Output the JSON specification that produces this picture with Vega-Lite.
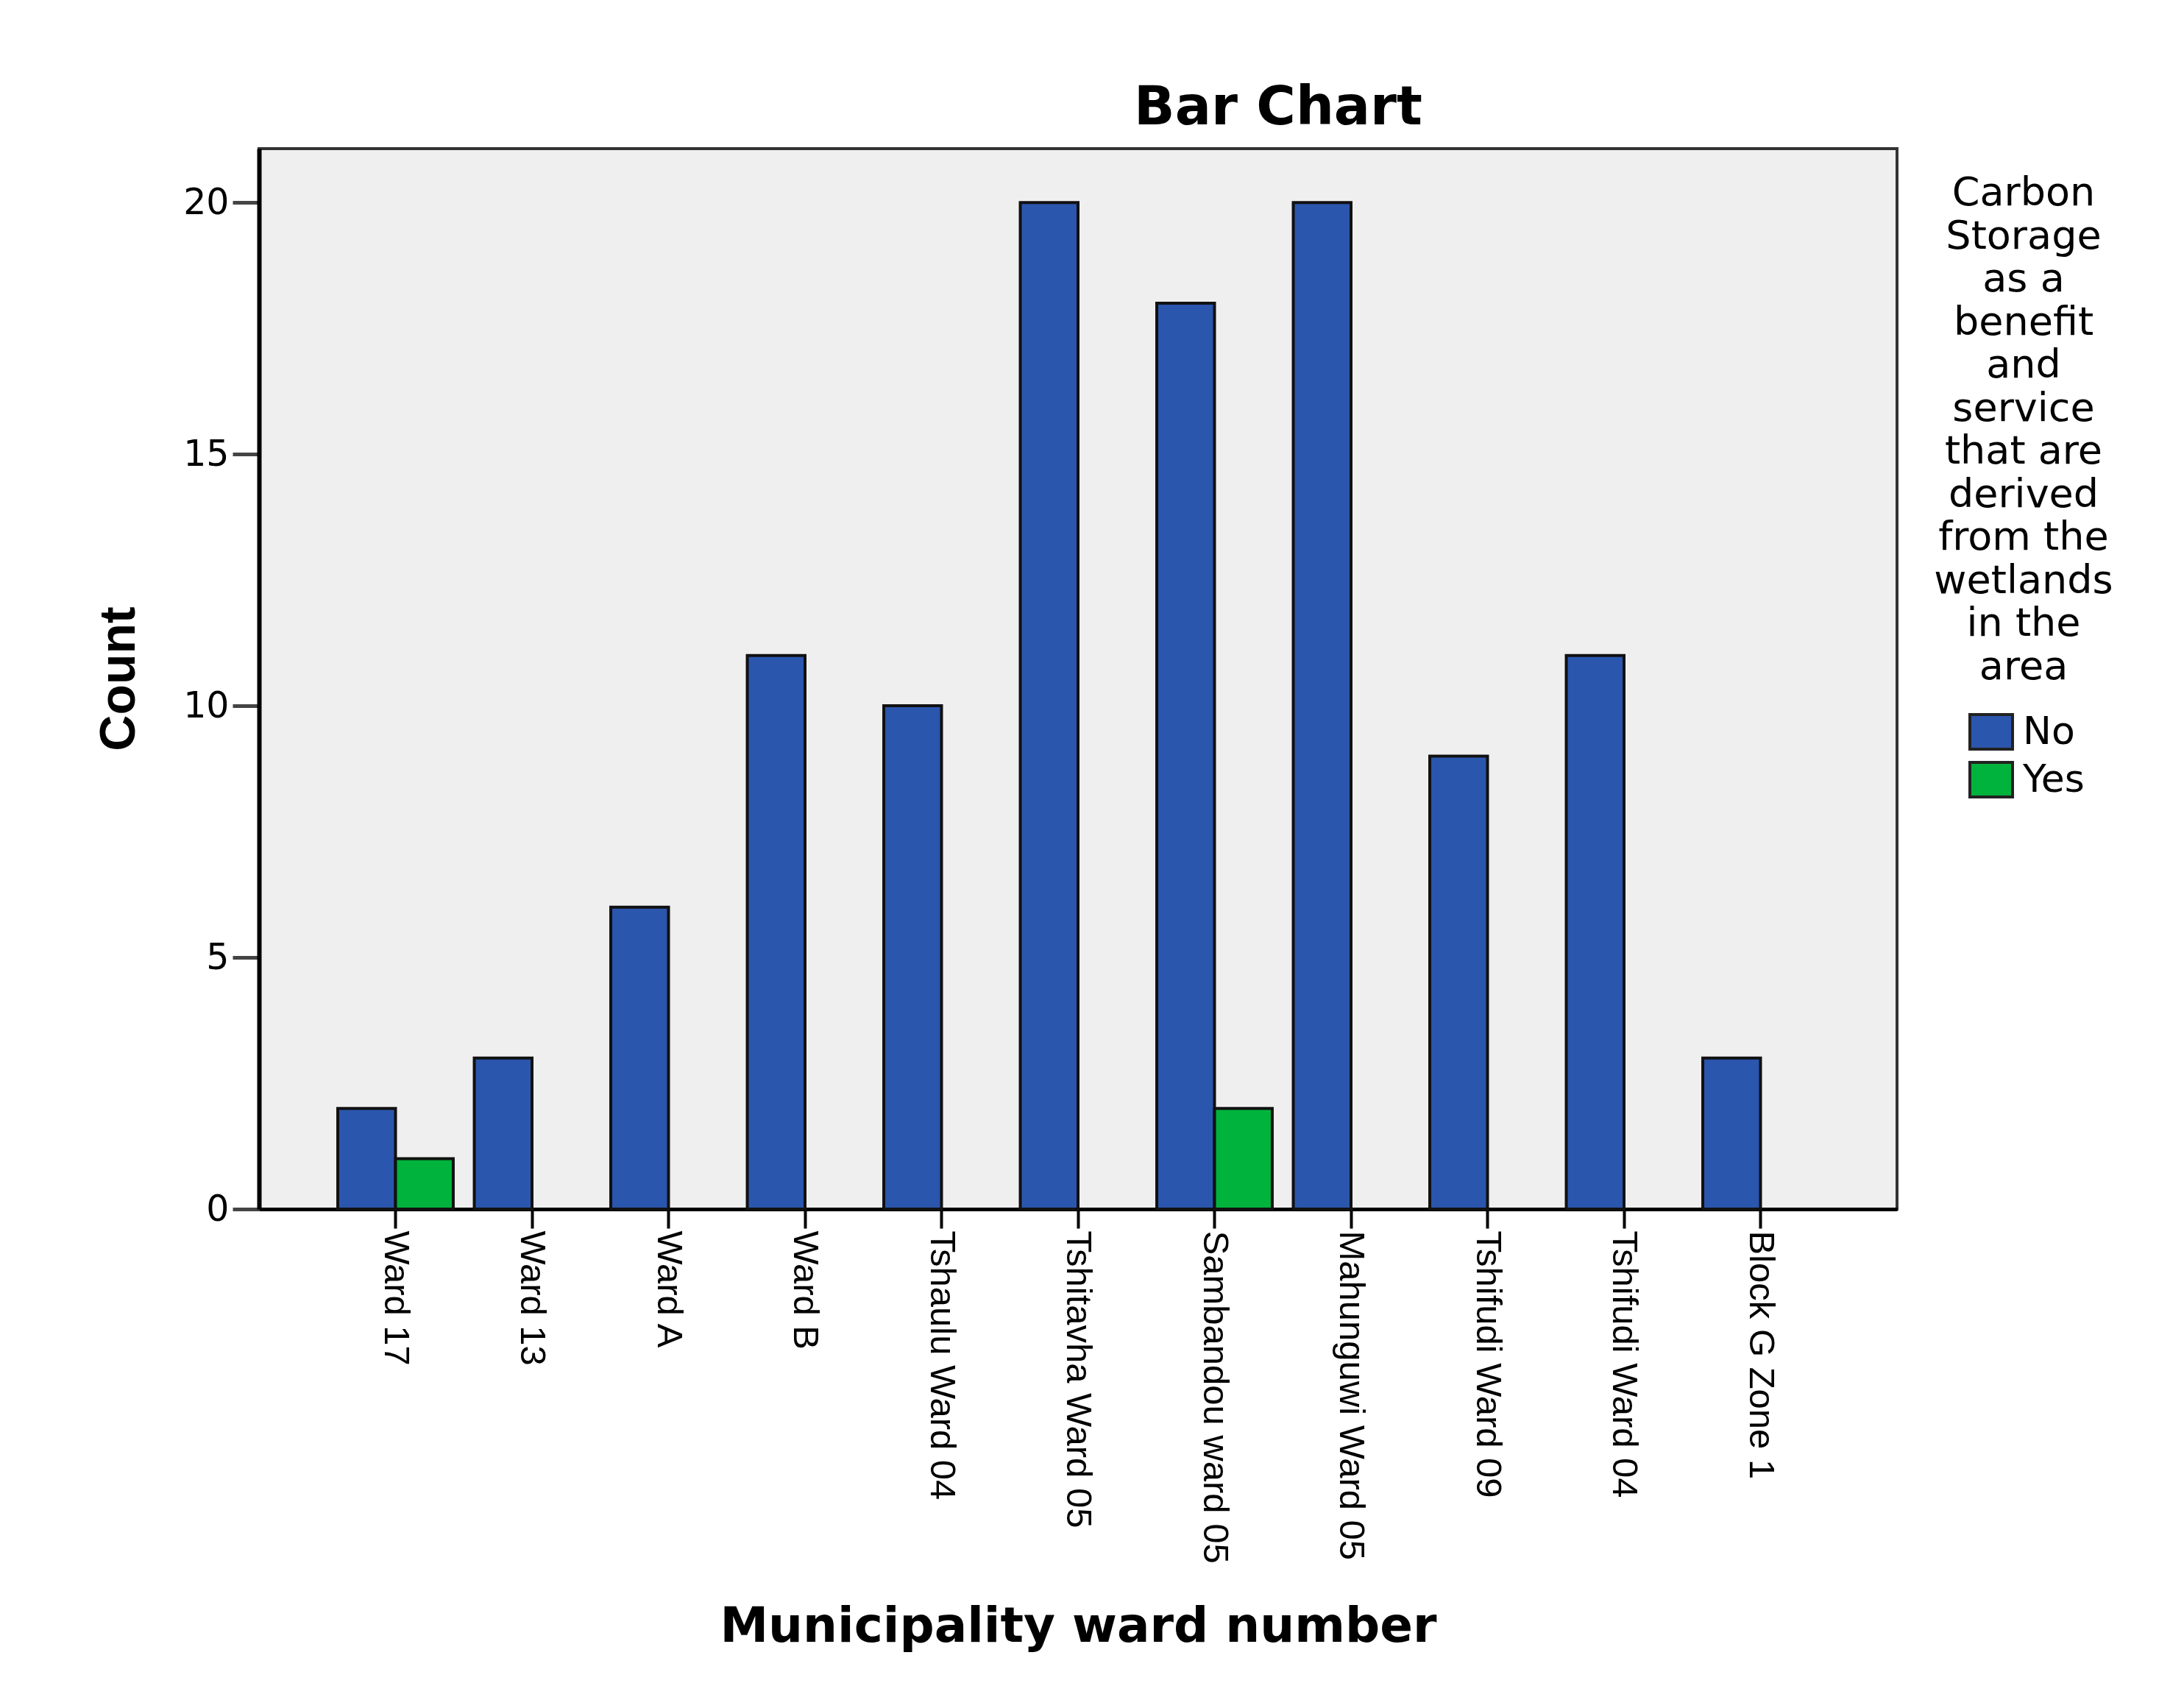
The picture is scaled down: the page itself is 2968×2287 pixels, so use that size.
{
  "$schema": "https://vega.github.io/schema/vega-lite/v6.json",
  "autosize": {"type": "none"},
  "width": 2226,
  "height": 1441,
  "padding": {"left": 352, "top": 202, "right": 390, "bottom": 644},
  "background": "white",
  "title": {"text": "Bar Chart", "font": "DejaVu Sans", "fontSize": 73, "fontWeight": "bold", "color": "black", "anchor": "middle", "dx": 272, "dy": 72, "baseline": "alphabetic", "offset": 32},
  "data": {"values": [
    {"ward": "Ward 17", "answer": "No", "count": 2},
    {"ward": "Ward 17", "answer": "Yes", "count": 1},
    {"ward": "Ward 13", "answer": "No", "count": 3},
    {"ward": "Ward A", "answer": "No", "count": 6},
    {"ward": "Ward B", "answer": "No", "count": 11},
    {"ward": "Tshaulu Ward 04", "answer": "No", "count": 10},
    {"ward": "Tshitavha Ward 05", "answer": "No", "count": 20},
    {"ward": "Sambandou ward 05", "answer": "No", "count": 18},
    {"ward": "Sambandou ward 05", "answer": "Yes", "count": 2},
    {"ward": "Mahunguwi Ward 05", "answer": "No", "count": 20},
    {"ward": "Tshifudi Ward 09", "answer": "No", "count": 9},
    {"ward": "Tshifudi Ward 04", "answer": "No", "count": 11},
    {"ward": "Block G Zone 1", "answer": "No", "count": 3}
  ]},
  "mark": {"type": "bar", "stroke": "#111111", "strokeWidth": 4},
  "encoding": {
    "x": {
      "field": "ward", "type": "nominal",
      "sort": ["Ward 17", "Ward 13", "Ward A", "Ward B", "Tshaulu Ward 04", "Tshitavha Ward 05", "Sambandou ward 05", "Mahunguwi Ward 05", "Tshifudi Ward 09", "Tshifudi Ward 04", "Block G Zone 1"],
      "scale": {"paddingInner": 0.154, "paddingOuter": 0.577},
      "axis": {
        "title": "Municipality ward number",
        "titleFont": "DejaVu Sans", "titleFontSize": 66, "titleFontWeight": "bold", "titleColor": "black",
        "titleBaseline": "alphabetic", "titleY": 587, "titleX": 1113,
        "labelAngle": 90, "labelFont": "Liberation Sans", "labelFontSize": 49, "labelColor": "black",
        "labelPadding": 3, "labelLimit": 0, "labelOverlap": false,
        "tickSize": 26, "tickWidth": 4, "tickColor": "black",
        "domainColor": "black", "domainWidth": 5, "grid": false
      }
    },
    "xOffset": {"field": "answer", "type": "nominal", "scale": {"domain": ["No", "Yes"], "paddingInner": 0, "paddingOuter": 0}},
    "y": {
      "field": "count", "type": "quantitative",
      "scale": {"domain": [0, 21.07], "nice": false},
      "axis": {
        "title": "Count",
        "titleFont": "Liberation Sans", "titleFontSize": 68, "titleFontWeight": "bold", "titleColor": "black",
        "titleBaseline": "alphabetic", "titleAngle": 270, "titleX": -170, "titleY": 720,
        "values": [0, 5, 10, 15, 20],
        "labelFont": "DejaVu Sans", "labelFontSize": 49, "labelColor": "black", "labelPadding": 5,
        "tickSize": 36, "tickWidth": 5, "tickColor": "#444444",
        "domainColor": "black", "domainWidth": 6, "grid": false
      }
    },
    "color": {
      "field": "answer", "type": "nominal",
      "scale": {"domain": ["No", "Yes"], "range": ["#2B56AD", "#00B33C"]},
      "legend": {
        "orient": "none", "legendX": 2276, "legendY": 34,
        "title": ["Carbon", "Storage", "as a", "benefit", "and", "service", "that are", "derived", "from the", "wetlands", "in the", "area"],
        "titleFont": "DejaVu Sans", "titleFontSize": 54, "titleFontWeight": "normal", "titleColor": "black",
        "titleAlign": "center", "titleAnchor": "middle", "titleLineHeight": 58.5, "titlePadding": 30, "titleLimit": 0,
        "symbolType": "M-1,-0.81H1V0.81H-1Z", "symbolSize": 3364, "symbolStrokeColor": "#222222", "symbolStrokeWidth": 4, "symbolOpacity": 1,
        "symbolOffset": 8,
        "labelFont": "DejaVu Sans", "labelFontSize": 52, "labelColor": "black", "labelOffset": 12,
        "rowPadding": 1, "padding": 0
      }
    }
  },
  "config": {"view": {"fill": "#EFEFEF", "stroke": "#333333", "strokeWidth": 4}}
}
